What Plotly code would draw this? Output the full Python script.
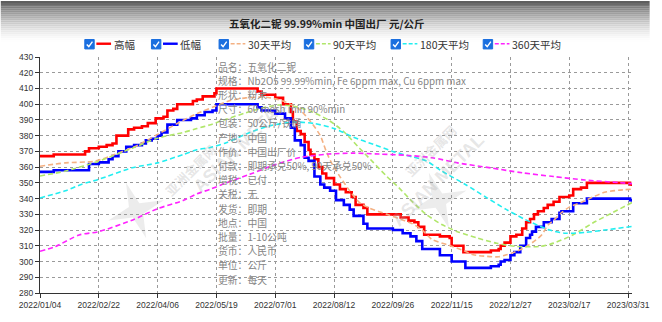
import plotly.graph_objects as go
import math

# ---------------- data ----------------
TITLE = "五氧化二铌 99.99%min 中国出厂 元/公斤"

TICK_POS = [0, 30, 60, 90, 120, 150, 180, 210, 240, 270, 300]
TICK_LABELS = ["2022/01/04", "2022/02/22", "2022/04/06", "2022/05/19", "2022/07/01",
               "2022/08/12", "2022/09/26", "2022/11/15", "2022/12/27", "2023/02/17",
               "2023/03/31"]

SERIES_NAMES = ["高幅", "低幅", "30天平均", "90天平均", "180天平均", "360天平均"]

# high price (step changes: trading-day index, price)
HIGH_DAY = [0, 7, 23, 25, 30, 34, 37, 39, 45, 48, 52, 55, 59, 63, 65, 68, 70, 78, 80, 83,
            89, 90, 111, 113, 120, 124, 128, 129, 131, 133, 135, 137, 138, 140, 142, 144,
            146, 150, 153, 156, 159, 161, 165, 167, 184, 188, 191, 193, 196, 204, 209, 210,
            216, 230, 234, 235, 237, 240, 243, 246, 248, 250, 252, 254, 257, 259, 262, 265,
            270, 272, 276, 279, 301, 302]
HIGH_PRICE = [367, 368, 370, 372, 373, 374, 375, 380, 384, 385, 386, 388, 391, 392, 396, 397,
              400, 402, 403, 405, 407, 410, 408, 406, 404, 400, 395, 389, 383, 381, 376, 371,
              368, 365, 360, 356, 353, 349, 346, 344, 341, 336, 334, 330, 328, 326, 325, 322,
              317, 316, 315, 310, 306, 307, 308, 310, 312, 316, 317, 321, 325, 327, 330, 332,
              334, 336, 338, 341, 342, 346, 347, 350, 349, 348]

# low price
LOW_DAY = [0, 7, 25, 30, 35, 37, 40, 44, 48, 52, 54, 57, 60, 62, 65, 70, 77, 80, 84, 88, 90,
           111, 113, 120, 125, 128, 130, 133, 135, 137, 140, 143, 145, 148, 151, 155, 158, 160,
           165, 167, 180, 185, 189, 192, 195, 204, 210, 217, 230, 234, 235, 237, 240, 242, 245,
           248, 250, 251, 253, 257, 261, 265, 266, 272, 279, 301, 302]
LOW_PRICE = [357, 358, 362, 363, 365, 367, 370, 373, 374, 375, 377, 378, 380, 382, 387, 390,
             391, 393, 395, 396, 400, 398, 396, 394, 391, 385, 377, 374, 366, 364, 354, 349,
             347, 345, 339, 336, 333, 329, 324, 321, 320, 318, 316, 313, 308, 304, 300, 296,
             297, 298, 300, 301, 304, 306, 310, 315, 317, 319, 322, 325, 327, 331, 332, 337,
             340, 339, 338]

AVG30_DAY = [0, 13, 28, 38, 50, 60, 70, 80, 88, 97, 105, 115, 124, 132, 138, 143, 146, 149, 153,
             158, 163, 168, 177, 186, 190, 195, 200, 208, 215, 221, 228, 234, 238, 243, 248,
             253, 256, 259, 262, 266, 270, 276, 282, 288, 295, 302]
AVG30 = [360.6, 362.7, 363.8, 368, 374, 380.8, 387.7, 394, 398, 402.3, 404, 404.5, 402, 397,
         389, 380, 370, 362, 354, 345, 337.5, 334, 330, 326, 324, 320, 314, 310.6, 307.5,
         304.3, 303.3, 303, 304.3, 306.4, 309.5, 313.7, 317, 323, 326.2, 331, 334.6, 337.5,
         341, 344, 345.3, 346]

AVG90_DAY = [0, 13, 30, 47, 60, 73, 80, 87, 95, 105, 113, 122, 130, 137, 147, 155, 163, 170,
             177, 183, 190, 197, 205, 213, 223, 233, 243, 255, 262, 272, 282, 292, 302]
AVG90 = [354.4, 357.5, 363.8, 372, 378.4, 382, 384.5, 387, 390.5, 394.5, 397.5, 399.5, 398.5,
         396, 390, 382.5, 372, 363, 354, 347, 338, 330, 323.5, 319, 315, 311.6, 309.6, 309.6,
         311.7, 317, 324.5, 331, 337.5]

AVG180_DAY = [0, 13, 21, 30, 47, 60, 73, 80, 87, 95, 107, 118, 130, 140, 150, 160, 170, 180,
              190, 197, 205, 217, 228, 238, 247, 254, 260, 268, 278, 288, 302]
AVG180 = [340.4, 345, 349, 352.3, 359.6, 362.7, 368, 371, 372.5, 375.5, 382, 386.5, 388.7,
          387.7, 384.6, 379, 374.5, 370, 366.5, 364, 357.5, 349, 340.5, 333, 327, 323, 320,
          318, 318.5, 320, 322.3]

AVG360_DAY = [0, 8, 20, 30, 47, 60, 73, 80, 87, 95, 107, 120, 133, 147, 160, 173, 187, 200,
              213, 230, 246, 262, 278, 295, 302]
AVG360 = [306.5, 309.6, 316.9, 319, 326.3, 333.6, 338.8, 343, 346, 350, 355.4, 361.6, 366.2,
          368.3, 368.9, 368.3, 367.5, 366, 362.7, 359.5, 356.4, 354, 351.8, 350.2, 349.5]

INFO_LABELS = ["品名", "规格", "形状", "尺寸", "包装", "产地", "作价", "付款", "增税", "关税",
               "发货", "地点", "批量", "货币", "单位", "更新"]
INFO_VALUES = ["五氧化二铌", "Nb2O5 99.99%min, Fe 6ppm max, Cu 6ppm max", "粉末",
               "60 mesh min 90%min", "50公斤/铁桶", "中国", "中国出厂价",
               "即期承兑50%, 90天承兑50%", "已付", "无", "即期", "中国", "1-10公吨",
               "人民币", "公斤", "每天"]

# ---------------- styling / layout ----------------
W, H = 662, 322
L, R, T, B = 40, 18, 57, 25
PW = W - L - R
PH = H - T - B
CJK = "Noto Sans CJK SC, Noto Sans, sans-serif"
NUM = "Liberation Sans Narrow, Liberation Sans, Arial, sans-serif"


def px_x(p):
    return (p - L) / PW


def px_y(p):
    return (H - B - p) / PH


COLORS = ["#ff0000", "#0000ff", "#f4b183", "#b0e66a", "#22eef0", "#ff22ff"]
DASH = "5px,3px"

fig = go.Figure()
fig.add_trace(go.Scatter(x=HIGH_DAY, y=HIGH_PRICE, name=SERIES_NAMES[0], mode="lines",
                         line=dict(color=COLORS[0], width=2.6, shape="hv")))
fig.add_trace(go.Scatter(x=LOW_DAY, y=LOW_PRICE, name=SERIES_NAMES[1], mode="lines",
                         line=dict(color=COLORS[1], width=2.6, shape="hv")))
for name, xs, ys, col in [(SERIES_NAMES[2], AVG30_DAY, AVG30, COLORS[2]),
                          (SERIES_NAMES[3], AVG90_DAY, AVG90, COLORS[3]),
                          (SERIES_NAMES[4], AVG180_DAY, AVG180, COLORS[4]),
                          (SERIES_NAMES[5], AVG360_DAY, AVG360, COLORS[5])]:
    fig.add_trace(go.Scatter(x=xs, y=ys, name=name, mode="lines",
                             line=dict(color=col, width=1.6, dash=DASH, shape="spline",
                                       smoothing=0.7)))

shapes = []
annotations = []

# header gradient
for k in range(0, 44, 2):
    f = max(0.0, 1 - (k + 1) / 42) ** 1.5
    c = int(round(255 - (255 - 88) * f))
    shapes.append(dict(type="rect", xref="paper", yref="paper", layer="below",
                       x0=px_x(0), x1=px_x(W), y0=px_y(k + 2), y1=px_y(k),
                       fillcolor=f"rgb({c},{c},{c})", line=dict(width=0)))


def star_path(cx, cy, r1, r2, rot):
    pts = []
    for j in range(8):
        ang = math.radians(rot + j * 45)
        rr = r1 if j % 2 == 0 else r2
        pts.append((cx + rr * math.cos(ang), cy - rr * math.sin(ang)))
    return "M " + " L ".join(f"{px_x(a):.5f},{px_y(b):.5f}" for a, b in pts) + " Z"


for cx, cy in [(138, 213), (447, 203)]:
    shapes.append(dict(type="path", xref="paper", yref="paper", layer="below",
                       path=star_path(cx, cy, 30, 8, 20),
                       fillcolor="rgba(200,200,200,0.35)", line=dict(width=0)))

for (ex, ey), (cxx, cyy) in [((190, 148), (160, 172)), ((500, 128), (472, 152))]:
    annotations.append(dict(xref="paper", yref="paper", x=px_x(ex), y=px_y(ey),
                            text="<b>ASIAN METAL</b>", showarrow=False, textangle=-45,
                            font=dict(family="Liberation Sans, Arial", size=18,
                                      color="rgba(170,170,170,0.30)")))
    annotations.append(dict(xref="paper", yref="paper", x=px_x(cxx), y=px_y(cyy),
                            text="<b>亚洲金属网</b>", showarrow=False, textangle=-45,
                            font=dict(family=CJK, size=13, color="rgba(170,170,170,0.30)")))

# title
annotations.append(dict(xref="paper", yref="paper", x=px_x(333), y=px_y(23),
                        text="<b>" + TITLE + "</b>", showarrow=False,
                        xanchor="center", yanchor="middle",
                        font=dict(family=CJK, size=10.5, color="#222222")))

# custom legend with checkboxes
LEG_CX = [90.5, 158.5, 227.5, 314.5, 403, 497]
LEG_CY = 44
for i, name in enumerate(SERIES_NAMES):
    cx = LEG_CX[i]
    shapes.append(dict(type="rect", xref="paper", yref="paper",
                       x0=px_x(cx - 4.8), x1=px_x(cx + 4.8),
                       y0=px_y(LEG_CY + 4.8), y1=px_y(LEG_CY - 4.8),
                       fillcolor="#1a6fdf", line=dict(color="#1a6fdf", width=1)))
    shapes.append(dict(type="path", xref="paper", yref="paper",
                       path=(f"M {px_x(cx - 2.8):.5f},{px_y(LEG_CY + 0.2):.5f} "
                             f"L {px_x(cx - 0.7):.5f},{px_y(LEG_CY + 2.4):.5f} "
                             f"L {px_x(cx + 3.0):.5f},{px_y(LEG_CY - 2.6):.5f}"),
                       line=dict(color="white", width=1.4)))
    shapes.append(dict(type="line", xref="paper", yref="paper",
                       x0=px_x(cx + 7), x1=px_x(cx + 22), y0=px_y(LEG_CY - 0.5),
                       y1=px_y(LEG_CY - 0.5),
                       line=dict(color=COLORS[i], width=2.4 if i < 2 else 1.6,
                                 dash="solid" if i < 2 else "4px,2px")))
    annotations.append(dict(xref="paper", yref="paper", x=px_x(cx + 22.5), y=px_y(LEG_CY),
                            text=name, showarrow=False, xanchor="left", yanchor="middle",
                            font=dict(family=CJK, size=10.5, color="#333333")))

# info block
for k, (lab, val) in enumerate(zip(INFO_LABELS, INFO_VALUES)):
    annotations.append(dict(xref="paper", yref="paper", x=px_x(220), y=px_y(66.7 + 14.45 * k),
                            text=lab + "：" + val, showarrow=False, xanchor="left",
                            yanchor="middle",
                            font=dict(family=CJK, size=9.8, color="#858585")))

fig.update_layout(
    width=W, height=H,
    margin=dict(l=L, r=R, t=T, b=B, pad=0),
    paper_bgcolor="white", plot_bgcolor="white",
    showlegend=False,
    shapes=shapes, annotations=annotations,
    xaxis=dict(range=[0, 302], tickmode="array", tickvals=TICK_POS, ticktext=TICK_LABELS,
               showgrid=True, gridcolor="#9a9a9a", griddash="dot", gridwidth=1,
               showline=True, linecolor="#333333", linewidth=1.2, ticks="outside",
               ticklen=4, tickcolor="#333333", zeroline=False,
               tickfont=dict(family=NUM, size=8.5, color="#333333")),
    yaxis=dict(range=[280, 430], dtick=10, tick0=280,
               showgrid=True, gridcolor="#9a9a9a", griddash="dot", gridwidth=1,
               showline=True, linecolor="#333333", linewidth=1.2, ticks="outside",
               ticklen=4, tickcolor="#333333", zeroline=False,
               tickfont=dict(family=NUM, size=8.5, color="#333333")),
)

fig.write_html("out.html")
